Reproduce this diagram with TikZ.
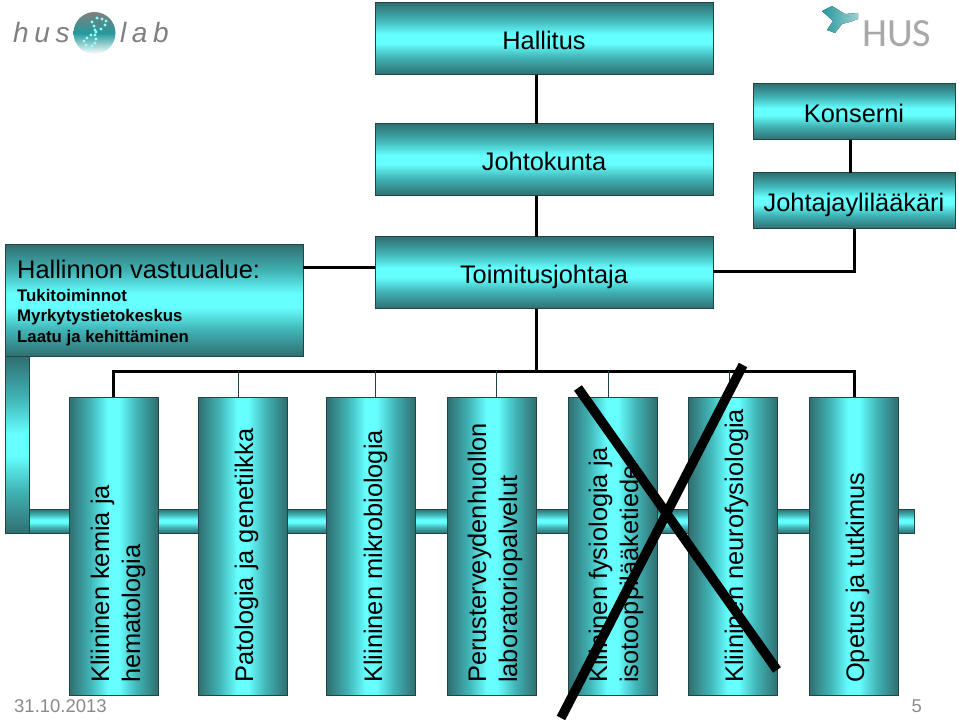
\documentclass[tikz,border=0pt]{standalone}
\usepackage{fontspec}
\setmainfont{Liberation Sans}
\newfontfamily\husfont{Carlito}
\definecolor{edgeteal}{HTML}{2F6E70}
\definecolor{midteal}{HTML}{41B4B6}
\definecolor{glowcyan}{HTML}{66FFFF}
\definecolor{rimdark}{HTML}{1F4546}
\definecolor{logogray}{HTML}{7F7F7F}
\definecolor{husgray}{HTML}{A8A8A8}
\definecolor{logoteal}{HTML}{25989C}
\definecolor{footgray}{HTML}{8A8A8A}
\pgfdeclareverticalshading{tealband}{100bp}{
  color(0bp)=(edgeteal); color(25bp)=(edgeteal); color(37bp)=(midteal); color(47bp)=(glowcyan);
  color(53bp)=(glowcyan); color(63bp)=(midteal); color(75bp)=(edgeteal); color(100bp)=(edgeteal)}
\tikzset{
  band/.style={draw=rimdark,line width=1pt,shading=tealband,
    inner sep=0pt,outer sep=0pt,font=\fontsize{25.4}{31}\selectfont,text=black},
  boxwide/.style={band,minimum width=338,minimum height=72,text height=22,text depth=0},
  boxside/.style={band,minimum width=202,minimum height=56,text height=22,text depth=0},
  column/.style={band,shading angle=90,minimum width=89,minimum height=298},
  coltext/.style={rotate=90,anchor=base west,align=left,inner sep=0pt,font=\fontsize{25.4}{31}\selectfont,text=black},
  thickline/.style={line width=3pt,black},
  thinline/.style={line width=1pt,rimdark},
  crossbar/.style={line width=9.5pt,black},
  dna/.style={fill=glowcyan!70!white,draw=none,circle,minimum size=3.2pt,inner sep=0pt},
}
\begin{document}
\begin{tikzpicture}[x=1pt,y=-1pt]
\useasboundingbox (0,0) rectangle (959,722);
% logos
\node[font=\fontsize{28}{30}\itshape\selectfont,text=logogray,anchor=base west,inner sep=0] (huslogo) at (13,43) {\addfontfeature{LetterSpace=20}hus};
\node[font=\fontsize{28}{30}\itshape\selectfont,text=logogray,anchor=base west,inner sep=0] (lablogo) at (120,43) {\addfontfeature{LetterSpace=20}lab};
\shade[inner color=logoteal,outer color=white,middle color=logoteal] (94.5,33) circle (21);
\foreach \p in {(97,18),(102,19),(106,21),(105,25),(101,29),(96,32),(91,35),(87,38),(84,41),(86,45),(90,49),(92,22),(94,26),(95,30),(95,35),(96,39),(95,43),(92,46)}
  \node[dna] at \p {};
\fill[left color=logoteal,right color=logoteal!45!white] (822,11) -- (832,6) -- (845,14) -- (858,13) -- (858,19) -- (850,22) -- (842,24) -- (835,33) -- (827,30) -- (833,21) -- cycle;
\node[font=\husfont\fontsize{40}{40}\selectfont,text=husgray,anchor=base west,inner sep=0] (huslogob) at (862,46.5) {HUS};
% bars behind columns
\node[band,minimum width=885,minimum height=24,anchor=north west] (hbar) at (29,509) {};
\node[band,minimum width=24,minimum height=177,anchor=north west] (vbar) at (5,356) {};
% top boxes
\node[boxwide] (hall) at (544,38.6) {Hallitus};
\node[boxwide] (johto) at (544,159.6) {Johtokunta};
\node[boxwide] (toim) at (544,272.6) {Toimitusjohtaja};
\node[boxside] (kons) at (854,111.6) {Konserni};
\node[boxside] (jyl) at (854,200.6) {Johtajaylilääkäri};
\node[band,minimum width=298,minimum height=112,anchor=north west] (hva) at (5,244.5) {};
\node[anchor=base west,align=left,inner sep=0,font=\fontsize{25.4}{29}\selectfont] (hvat) at (17,279) {Hallinnon vastuualue:};
\node[anchor=base west,align=left,inner sep=0,font=\fontsize{16.8}{20.5}\selectfont\bfseries] (hvas) at (17,342) {Tukitoiminnot\\Myrkytystietokeskus\\Laatu ja kehittäminen};
% columns
\node[column] (c1) at (113.5,546) {};
\node[column] (c2) at (242.5,546) {};
\node[column] (c3) at (371,546) {};
\node[column] (c4) at (492,546) {};
\node[column] (c5) at (612.5,546) {};
\node[column] (c6) at (733,546) {};
\node[column] (c7) at (853.5,546) {};
\node[coltext] (t1) at (140,683) {Kliininen kemia ja\\hematologia};
\node[coltext] (t2) at (253,683) {Patologia ja genetiikka};
\node[coltext] (t3) at (382,683) {Kliininen mikrobiologia};
\node[coltext] (t4) at (517,683) {Perusterveydenhuollon\\laboratoriopalvelut};
\node[coltext] (t5) at (638,683) {Kliininen fysiologia ja\\isotooppilääketiede};
\node[coltext] (t6) at (743,683) {Kliininen neurofysiologia};
\node[coltext] (t7) at (864,683) {Opetus ja tutkimus};
% connectors
\coordinate (busl) at (113,371);
\coordinate (busr) at (854,371);
\coordinate (busm) at (536,371);
\coordinate (d2) at (238,371);
\coordinate (d3) at (375,371);
\coordinate (d4) at (496,371);
\coordinate (d5) at (608,371);
\coordinate (d6) at (729,371);
\coordinate (jj) at (854,272);
\coordinate (hh) at (340,268);
\coordinate (ka) at (850,111);
\coordinate (ta) at (536,200);
\draw[thickline] (ta |- hall.south) -- (ta |- johto.north);
\draw[thickline] (ta |- johto.south) -- (ta |- toim.north);
\draw[thickline] (ta |- toim.south) -- (busm);
\draw[thickline] (ka |- kons.south) -- (ka |- jyl.north);
\draw[thickline] (jj |- jyl.south) -- (jj) -- (toim.east |- jj);
\draw[thickline] (hva.east |- hh) -- (toim.west |- hh);
\draw[thickline] (busl |- c1.north) -- (busl) -- (busr) -- (busr |- c7.north);
\draw[thinline] (d2) -- (d2 |- c2.north);
\draw[thinline] (d3) -- (d3 |- c3.north);
\draw[thinline] (d4) -- (d4 |- c4.north);
\draw[thinline] (d5) -- (d5 |- c5.north);
\draw[thinline] (d6) -- (d6 |- c6.north);
% cross
\coordinate (xa) at (578,388);
\coordinate (xb) at (777,670);
\coordinate (xc) at (743,365);
\coordinate (xd) at (561,718);
\draw[crossbar] (xa) -- (xb);
\draw[crossbar] (xc) -- (xd);
% footer
\node[anchor=base west,inner sep=0,font=\fontsize{18.5}{20}\selectfont,text=footgray] (date) at (14,712) {31.10.2013};
\node[anchor=base east,inner sep=0,font=\fontsize{18.5}{20}\selectfont,text=footgray] (pg) at (922,712) {5};
\end{tikzpicture}
\end{document}
